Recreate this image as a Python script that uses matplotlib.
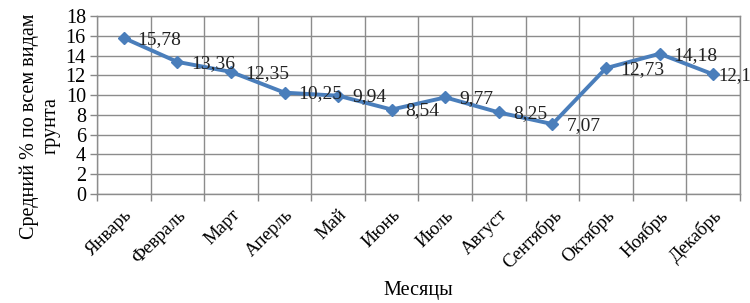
import matplotlib
matplotlib.use("Agg")
import matplotlib.pyplot as plt
import numpy as np

months = ["Январь", "Февраль", "Март", "Аперль", "Май", "Июнь", "Июль",
          "Август", "Сентябрь", "Октябрь", "Ноябрь", "Декабрь"]
values = [15.78, 13.36, 12.35, 10.25, 9.94, 8.54, 9.77, 8.25, 7.07, 12.73, 14.18, 12.1]
labels = ["15,78", "13,36", "12,35", "10,25", "9,94", "8,54", "9,77", "8,25",
          "7,07", "12,73", "14,18", "12,1"]

plt.rcParams['font.family'] = ['Liberation Serif', 'DejaVu Serif']

fig = plt.figure(figsize=(7.5, 3.03), dpi=100)
ax = fig.add_axes([97/750, 1 - 194/303, (740-97)/750, (194-16)/303])

x = np.arange(len(months))
ax.plot(x, values, color="#4A7EBB", lw=2.8, marker="D", ms=6.5,
        markerfacecolor="#4A7EBB", markeredgecolor="#4A7EBB", zorder=3, clip_on=False)
n = len(months)
for i, (xi, v, t) in enumerate(zip(x, values, labels)):
    dx = 4 if i == n - 1 else 10
    ax.annotate(t, (xi, v), xytext=(dx, -1), textcoords="offset points",
                ha="left", va="center", fontsize=14 if i < n - 1 else 13.5, color="#222222",
                annotation_clip=False, zorder=4)

ax.set_xlim(-0.5, n - 0.5)
ax.set_ylim(0, 18)
ax.set_yticks(np.arange(0, 19, 2))
ax.set_xticks(x)
ax.set_xticklabels(months, rotation=45, ha="right", rotation_mode="anchor", fontsize=13.5)
ax.set_xticks(np.arange(-0.5, n, 1), minor=True)
ax.tick_params(axis="x", which="major", length=0, pad=9)
ax.tick_params(axis="x", which="minor", length=5, color="#888888", width=1)
ax.tick_params(axis="y", length=5, color="#888888", width=1, labelsize=14.5, pad=3)

ax.grid(False)
for yv in np.arange(0, 19, 2):
    ax.axhline(yv, color="#8C8C8C", lw=1, zorder=1)
for xv in np.arange(-0.5, n, 1):
    ax.axvline(xv, color="#8C8C8C", lw=1, zorder=1)
for s in ax.spines.values():
    s.set_color("#8C8C8C")
    s.set_linewidth(1)

fig.text(418/750, 1 - 290/303, "Месяцы", fontsize=14.5, ha="center", va="center")
fig.text(40/750, 1 - 126/303, "Средний % по всем видам\nгрунта", fontsize=14.5,
         rotation=90, ha="center", va="center", multialignment="center", linespacing=1.2)

fig.savefig("out.png", dpi=100)
